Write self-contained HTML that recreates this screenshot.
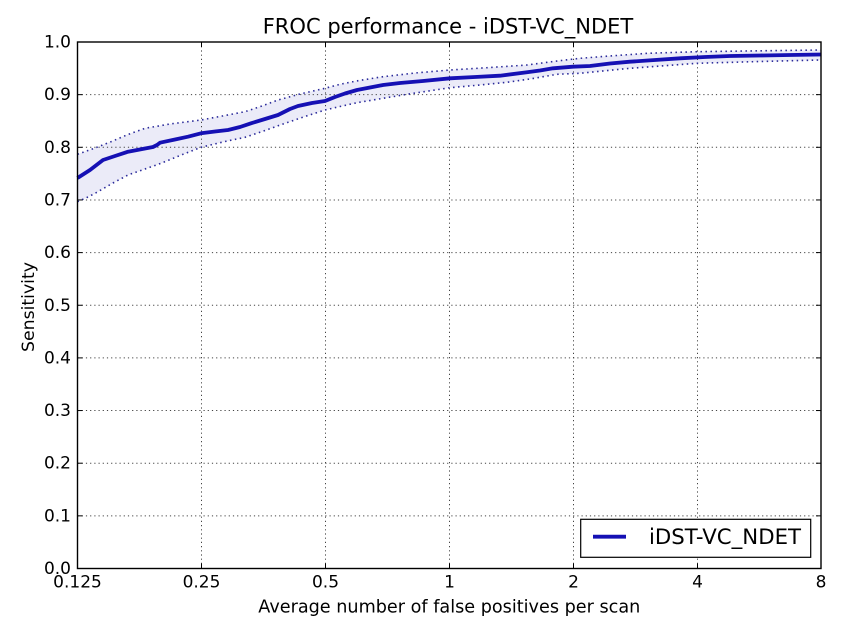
<!DOCTYPE html>
<html><head><meta charset="utf-8"><style>
html,body{margin:0;padding:0;background:#fff;}
svg{display:block;}
text{font-family:"DejaVu Sans","Liberation Sans",sans-serif;fill:#000;}
</style></head><body>
<svg width="848" height="635" viewBox="0 0 848 635" xmlns="http://www.w3.org/2000/svg">
<rect width="848" height="635" fill="#fff"/>
<!-- fill band -->
<polygon fill="#ebebf8" points="77.5,154.3 95,148 111,141.7 128,134.5 145,128.3 170,124 201,120 225,115.5 245,111.7 262,106 278,100 300,94 325,88.3 340,84.3 358,80.7 383,76.7 415,73 450,70 490,67.5 527,65 557,61 580,58.3 610,56 647,53.3 697,51.7 760,50.8 821,50 821,60 760,61.5 697,63.3 630,68.3 580,73.3 557,74.3 530,79 507,82.3 480,85 450,87.7 407,94.3 373,100 358,102.5 340,106.5 325,110 305,116.5 285,123.3 265,130.5 245,137.3 225,141.5 201,147.3 180,155.5 161,163.3 145,169 128,175 113,183 98,191.7 88,197 77.5,201.7"/>
<!-- grid -->
<g stroke="#444" stroke-width="1" stroke-dasharray="1.2 3" fill="none">
<line x1="201.5" y1="42" x2="201.5" y2="568.5"/>
<line x1="325.5" y1="42" x2="325.5" y2="568.5"/>
<line x1="449.5" y1="42" x2="449.5" y2="568.5"/>
<line x1="573.5" y1="42" x2="573.5" y2="568.5"/>
<line x1="697.5" y1="42" x2="697.5" y2="568.5"/>
<line x1="77.5" y1="94.65" x2="821" y2="94.65"/>
<line x1="77.5" y1="147.3" x2="821" y2="147.3"/>
<line x1="77.5" y1="199.95" x2="821" y2="199.95"/>
<line x1="77.5" y1="252.6" x2="821" y2="252.6"/>
<line x1="77.5" y1="305.25" x2="821" y2="305.25"/>
<line x1="77.5" y1="357.9" x2="821" y2="357.9"/>
<line x1="77.5" y1="410.55" x2="821" y2="410.55"/>
<line x1="77.5" y1="463.2" x2="821" y2="463.2"/>
<line x1="77.5" y1="515.85" x2="821" y2="515.85"/>
</g>
<!-- dotted bounds -->
<g stroke="#2a2a9a" stroke-width="1.6" stroke-dasharray="1.5 3.5" fill="none">
<polyline points="77.5,154.3 95,148 111,141.7 128,134.5 145,128.3 170,124 201,120 225,115.5 245,111.7 262,106 278,100 300,94 325,88.3 340,84.3 358,80.7 383,76.7 415,73 450,70 490,67.5 527,65 557,61 580,58.3 610,56 647,53.3 697,51.7 760,50.8 821,50"/>
<polyline points="77.5,201.7 88,197 98,191.7 113,183 128,175 145,169 161,163.3 180,155.5 201,147.3 225,141.5 245,137.3 265,130.5 285,123.3 305,116.5 325,110 340,106.5 358,102.5 373,100 407,94.3 450,87.7 480,85 507,82.3 530,79 557,74.3 580,73.3 630,68.3 697,63.3 760,61.5 821,60"/>
</g>
<!-- main line -->
<polyline fill="none" stroke="#1510b4" stroke-width="3.8" stroke-linejoin="round" points="77.5,178 90,170 103,160 115,156 128,151.7 145,148.5 153,147 157,145 160,142.7 175,139.5 188,136.7 201,133.3 215,131.5 228,130 240,127 251,123.3 265,119 278,115 290,109 298,106 312,103 325,101 335,97 345,93.5 357,90 370,87.5 383,85 400,83 423,81 450,78.3 475,77 500,75.7 527,72.3 540,70.5 553,68.3 573,66.7 590,66 610,63.5 630,61.7 655,60 680,58.3 705,57 730,56 760,55.5 790,55 821,54.5"/>
<!-- ticks -->
<g stroke="#000" stroke-width="1">
<line x1="201.5" y1="568.5" x2="201.5" y2="563.5"/><line x1="325.5" y1="568.5" x2="325.5" y2="563.5"/><line x1="449.5" y1="568.5" x2="449.5" y2="563.5"/><line x1="573.5" y1="568.5" x2="573.5" y2="563.5"/><line x1="697.5" y1="568.5" x2="697.5" y2="563.5"/>
<line x1="201.5" y1="42" x2="201.5" y2="47"/><line x1="325.5" y1="42" x2="325.5" y2="47"/><line x1="449.5" y1="42" x2="449.5" y2="47"/><line x1="573.5" y1="42" x2="573.5" y2="47"/><line x1="697.5" y1="42" x2="697.5" y2="47"/>
<line x1="77.5" y1="94.65" x2="82.5" y2="94.65"/><line x1="77.5" y1="147.3" x2="82.5" y2="147.3"/><line x1="77.5" y1="199.95" x2="82.5" y2="199.95"/><line x1="77.5" y1="252.6" x2="82.5" y2="252.6"/><line x1="77.5" y1="305.25" x2="82.5" y2="305.25"/><line x1="77.5" y1="357.9" x2="82.5" y2="357.9"/><line x1="77.5" y1="410.55" x2="82.5" y2="410.55"/><line x1="77.5" y1="463.2" x2="82.5" y2="463.2"/><line x1="77.5" y1="515.85" x2="82.5" y2="515.85"/>
<line x1="821" y1="94.65" x2="816" y2="94.65"/><line x1="821" y1="147.3" x2="816" y2="147.3"/><line x1="821" y1="199.95" x2="816" y2="199.95"/><line x1="821" y1="252.6" x2="816" y2="252.6"/><line x1="821" y1="305.25" x2="816" y2="305.25"/><line x1="821" y1="357.9" x2="816" y2="357.9"/><line x1="821" y1="410.55" x2="816" y2="410.55"/><line x1="821" y1="463.2" x2="816" y2="463.2"/><line x1="821" y1="515.85" x2="816" y2="515.85"/>
</g>
<!-- legend -->
<rect x="580.7" y="519.3" width="230" height="38" fill="#fff" stroke="#000" stroke-width="1.2"/>
<line x1="593" y1="536.7" x2="626" y2="536.7" stroke="#1510b4" stroke-width="3.8"/>
<text x="649" y="544" font-size="21" textLength="152" lengthAdjust="spacingAndGlyphs">iDST-VC_NDET</text>
<!-- frame -->
<rect x="77.5" y="42" width="743.5" height="526.5" fill="none" stroke="#000" stroke-width="1.4"/>
<!-- title -->
<text x="262.7" y="33.3" font-size="21" textLength="370.6" lengthAdjust="spacingAndGlyphs">FROC performance - iDST-VC_NDET</text>
<!-- y tick labels -->
<g font-size="17" text-anchor="end">
<text x="71" y="47.5">1.0</text>
<text x="71" y="100.2">0.9</text>
<text x="71" y="152.8">0.8</text>
<text x="71" y="205.5">0.7</text>
<text x="71" y="258.1">0.6</text>
<text x="71" y="310.8">0.5</text>
<text x="71" y="363.4">0.4</text>
<text x="71" y="416.1">0.3</text>
<text x="71" y="468.7">0.2</text>
<text x="71" y="521.4">0.1</text>
<text x="71" y="574">0.0</text>
</g>
<!-- x tick labels -->
<g font-size="17" text-anchor="middle">
<text x="77.5" y="587.3">0.125</text>
<text x="201.5" y="587.3">0.25</text>
<text x="325.5" y="587.3">0.5</text>
<text x="449.5" y="587.3">1</text>
<text x="573.5" y="587.3">2</text>
<text x="697.5" y="587.3">4</text>
<text x="821" y="587.3">8</text>
</g>
<text x="258.3" y="612.7" font-size="17.5" textLength="382" lengthAdjust="spacingAndGlyphs">Average number of false positives per scan</text>
<text transform="translate(34,352) rotate(-90)" x="0" y="0" font-size="17.3" textLength="90" lengthAdjust="spacingAndGlyphs">Sensitivity</text>
</svg>
</body></html>
